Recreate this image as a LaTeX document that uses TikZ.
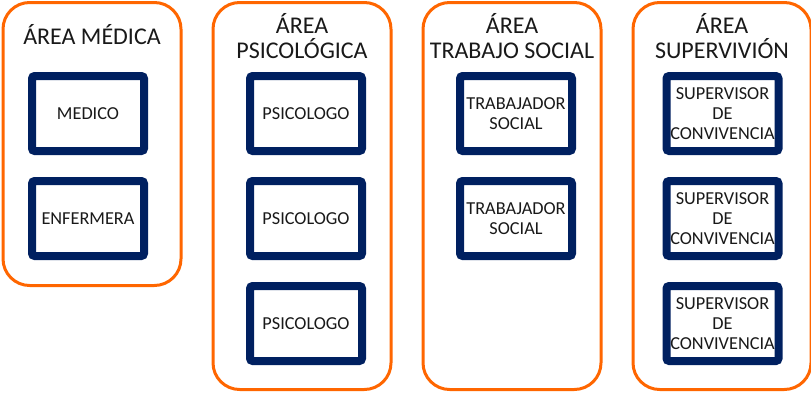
\documentclass[tikz,border=0pt]{standalone}
\usepackage{fontspec}
\setmainfont{Carlito}
\usetikzlibrary{positioning}
\definecolor{naranja}{RGB}{255,102,0}
\definecolor{marino}{RGB}{0,32,96}
\tikzstyle{area}=[draw=naranja,line width=2.25pt,rounded corners=20pt,minimum width=133.5pt,outer sep=0pt,anchor=north west]
\tikzstyle{titulo}=[align=center,inner sep=0pt,text=black!90,font=\fontsize{18}{19}\selectfont]
\tikzstyle{puesto}=[draw=marino,line width=6pt,rounded corners=2pt,fill=white,minimum width=84pt,minimum height=56.25pt,inner sep=0pt,align=center,text=black!90,font=\fontsize{13.7}{15}\selectfont]
\newcommand{\newArea}[3]{\node[area,minimum height=#3](#1) at (#2){};}
\newcommand{\newTitulo}[3]{\node[titulo](#1) at (#2){#3};}
\newcommand{\newPuesto}[3]{\node[puesto,#3](#1){#2};}

\begin{document}
\begin{tikzpicture}[x=0.75pt,y=-0.75pt,node distance=16.5pt]
      \useasboundingbox (0,0) rectangle (811,393);
      % las cuatro areas
      \newArea{medica}{3,2.5}{212.25pt}
      \newArea{psico}{213,2.5}{290.25pt}
      \newArea{social}{423,2.5}{290.25pt}
      \newArea{superv}{633,2.5}{290.25pt}
      \newTitulo{t-medica}{92,35}{ÁREA MÉDICA}
      \newTitulo{t-psico}{302,36}{ÁREA\\PSICOLÓGICA}
      \newTitulo{t-social}{512,36}{ÁREA\\TRABAJO SOCIAL}
      \newTitulo{t-superv}{722,36}{ÁREA\\SUPERVIVIÓN}
      % puestos
      \newPuesto{med1}{MEDICO}{at={(88,113.5)}}
      \newPuesto{med2}{ENFERMERA}{below=of med1}
      \newPuesto{psi1}{PSICOLOGO}{at={(306,113.5)}}
      \newPuesto{psi2}{PSICOLOGO}{below=of psi1}
      \newPuesto{psi3}{PSICOLOGO}{below=of psi2}
      \newPuesto{soc1}{TRABAJADOR\\SOCIAL}{at={(516,113.5)}}
      \newPuesto{soc2}{TRABAJADOR\\SOCIAL}{below=of soc1}
      \newPuesto{sup1}{SUPERVISOR\\DE\\CONVIVENCIA}{at={(722.5,113.5)}}
      \newPuesto{sup2}{SUPERVISOR\\DE\\CONVIVENCIA}{below=of sup1}
      \newPuesto{sup3}{SUPERVISOR\\DE\\CONVIVENCIA}{below=of sup2}
    \end{tikzpicture}
\end{document}
